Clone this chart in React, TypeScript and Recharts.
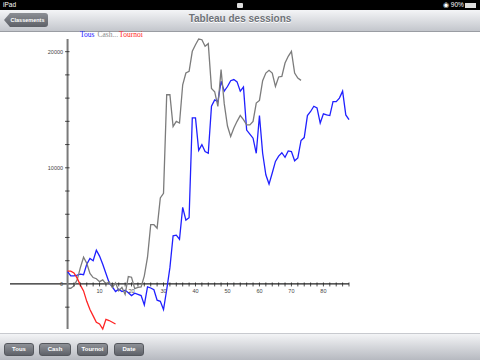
import { LineChart, Line, XAxis, YAxis, ReferenceLine, ReferenceDot } from 'recharts'

// session results (cumulative), one value per session index
const TOUS = [
  1060, 700, 700, 750, 850, 800, 1700, 2200, 2000, 2900,
  2400, 1700, 900, 100, -250, -650, -450, -650, -550, -750,
  -1000, -800, -900, -1000, -1800, -250, -350, -500, -1400, -1500,
  -2200, -500, 1400, 4150, 4200, 3850, 6600, 5500, 5700, 14300,
  14300, 11500, 12000, 11400, 11250, 15300, 15850, 15700, 17450, 16600,
  17000, 17500, 17600, 17400, 16600, 16950, 13250, 12900, 12550, 11250,
  14500, 11250, 9400, 8600, 9550, 10550, 11000, 11300, 10900, 11450,
  11400, 10600, 10850, 12350, 12600, 14500, 14850, 15300, 15150, 13850,
  14650, 14550, 14500, 15700, 15700, 16000, 16600, 14550, 14150,
]
const CASH = [
  -370, -370, -170, 350, 1400, 2300, 1780, 900, 550, 450,
  200, 350, 0, 200, -300, 100, -600, -300, -900, 630,
  580, -400, -300, -250, 700, 2300, 5100, 5100, 4800, 7400,
  7800, 16290, 16290, 13560, 13990, 13850, 17150, 18160, 18300, 20030,
  20600, 21090, 21030, 20460, 20690, 16840, 16550, 15280, 18450, 15500,
  13600, 12700, 13420, 14000, 14500, 14140, 13700, 13700, 14000, 15570,
  15800, 17500, 18160, 18390, 18160, 17010, 17820, 17870, 19020, 19600,
  20030, 18160, 17720, 17530,
]
const TOURNOI = [
  1100, 1100, 950, 500, -100, -600, -1500, -2200, -2750, -3300,
  -3450, -3880, -3050, -3150, -3300, -3450,
]

const X_TICKS = [
  2, 4, 6, 8, 10, 12, 14, 16, 18, 20, 22, 24, 26, 28, 30, 32, 34, 36, 38, 40, 42, 44,
  46, 48, 50, 52, 54, 56, 58, 60, 62, 64, 66, 68, 70, 72, 74, 76, 78, 80, 82, 84, 86, 88,
]
const X_LABELS = [10, 20, 30, 40, 50, 60, 70, 80]
const Y_TICKS = [-2000, 2000, 4000, 6000, 8000, 10000, 12000, 14000, 16000, 18000, 20000]
const Y_LABELS = [0, 10000, 20000]

const SERIES = [
  { key: 'tous', name: 'Tous', color: '#2020ff' },
  { key: 'cash', name: 'Cash...', color: '#7c7c7c' },
  { key: 'tournoi', name: 'Tournoi', color: '#ff2424' },
]

const data = TOUS.map((v, i) => ({ i, tous: v, cash: CASH[i], tournoi: TOURNOI[i] }))

const sans = '"Liberation Sans", Arial, sans-serif'

const xTick = (label: string | null) => (p: any) => (
  <g>
    <line x1={p.cx} x2={p.cx} y1={p.cy - 1.5} y2={p.cy + 2.5} stroke="#222" strokeWidth={0.8} />
    {label && (
      <text x={p.cx} y={p.cy + 9.5} textAnchor="middle" fontSize={5.5} fill="#444" fontFamily={sans}>
        {label}
      </text>
    )}
  </g>
)

const yTick = (label: string | null) => (p: any) => (
  <g>
    <line x1={p.cx - 2.5} x2={p.cx + 2} y1={p.cy} y2={p.cy} stroke="#222" strokeWidth={0.8} />
    {label && (
      <text x={p.cx - 4.5} y={p.cy + 2} textAnchor="end" fontSize={5.5} fill="#444" fontFamily={sans}>
        {label}
      </text>
    )}
  </g>
)

function Button({ left, width, label }: { left: number; width: number; label: string }) {
  return (
    <div style={{
      position: 'absolute', left, top: 343, width, height: 13, borderRadius: 3,
      background: 'linear-gradient(#8e9197, #5f6269)', border: '1px solid #55585e',
      boxSizing: 'border-box', color: '#fff', fontSize: 6, fontWeight: 'bold',
      fontFamily: sans, textAlign: 'center', lineHeight: '11px',
    }}>{label}</div>
  )
}

export default function App() {
  return (
    <div style={{ position: 'fixed', left: 0, top: 0, width: 480, height: 360, background: '#fff', overflow: 'hidden' }}>
      {/* status bar */}
      <div style={{ position: 'absolute', left: 0, top: 0, width: 480, height: 10, background: '#000', color: '#fff', fontFamily: sans, fontSize: 6.5, lineHeight: '10px' }}>
        <span style={{ position: 'absolute', left: 3 }}>iPad</span>
        <div style={{ position: 'absolute', left: 237, top: 3, width: 6, height: 5, background: '#ddd', borderRadius: 1 }} />
        <span style={{ position: 'absolute', left: 443 }}>◉ 90%</span>
        <div style={{ position: 'absolute', left: 465, top: 3, width: 11, height: 5, background: '#ddd' }} />
      </div>
      {/* nav bar */}
      <div style={{ position: 'absolute', left: 0, top: 10, width: 480, height: 21, background: 'linear-gradient(#f4f5f7, #c3c6cc)', borderBottom: '1px solid #9a9da3' }}>
        <div style={{ position: 'absolute', width: 480, top: 3, textAlign: 'center', fontFamily: sans, fontWeight: 'bold', fontSize: 10, color: '#6e7278', textShadow: '0 1px 0 #fff' }}>
          Tableau des sessions
        </div>
        <div style={{
          position: 'absolute', left: 4, top: 3, width: 44, height: 14,
          background: 'linear-gradient(#8c8f95, #5d6067)', borderRadius: '0 3px 3px 0',
          clipPath: 'polygon(0 50%, 6px 0, 100% 0, 100% 100%, 6px 100%)',
          color: '#fff', fontFamily: sans, fontWeight: 'bold', fontSize: 5.5, lineHeight: '14px', textAlign: 'center', paddingLeft: 3, boxSizing: 'border-box',
        }}>Classements</div>
      </div>
      {/* chart */}
      <div style={{ position: 'absolute', left: 0, top: 0 }}>
        <LineChart width={480} height={360} data={data} margin={{ top: 39, right: 131, bottom: 31, left: 10 }}>
          <XAxis dataKey="i" type="number" domain={[-18, 88]} hide />
          <YAxis type="number" domain={['dataMin', 'dataMax']} hide />
          <ReferenceLine y={0} stroke="#222" strokeWidth={1.2} />
          <ReferenceLine x={0} stroke="#7a7a7a" strokeWidth={2} />
          {X_TICKS.map(t => (
            <ReferenceDot key={'x' + t} x={t} y={0} r={0} shape={xTick(X_LABELS.includes(t) ? String(t) : null)} />
          ))}
          {Y_TICKS.map(t => (
            <ReferenceDot key={'y' + t} x={0} y={t} r={0} shape={yTick(Y_LABELS.includes(t) ? String(t) : null)} />
          ))}
          <ReferenceDot x={0} y={0} r={0} shape={(p: any) => (
            <text x={p.cx - 4.5} y={p.cy + 2} textAnchor="end" fontSize={5.5} fill="#444" fontFamily={sans}>{Y_LABELS[0]}</text>
          )} />
          {SERIES.map(s => (
            <Line key={s.key} dataKey={s.key} name={s.name} type="linear" stroke={s.color}
              strokeWidth={1.3} dot={false} isAnimationActive={false} />
          ))}
        </LineChart>
      </div>
      {/* legend */}
      <div style={{ position: 'absolute', left: 80, top: 30, fontFamily: '"Liberation Serif", serif', fontSize: 7.5, lineHeight: '9px', whiteSpace: 'nowrap' }}>
        {SERIES.map(s => (
          <span key={s.key} style={{ color: s.key === 'cash' ? '#8a8a8a' : s.color, marginRight: s.key === 'tous' ? 3 : 1 }}>{s.name}</span>
        ))}
      </div>
      {/* toolbar */}
      <div style={{ position: 'absolute', left: 0, top: 333, width: 480, height: 27, background: 'linear-gradient(#f3f4f6, #b4b7be)', borderTop: '1px solid #c8cacf' }} />
      <Button left={4} width={30} label="Tous" />
      <Button left={39} width={32} label="Cash" />
      <Button left={77} width={31} label="Tournoi" />
      <Button left={114} width={30} label="Date" />
    </div>
  )
}
